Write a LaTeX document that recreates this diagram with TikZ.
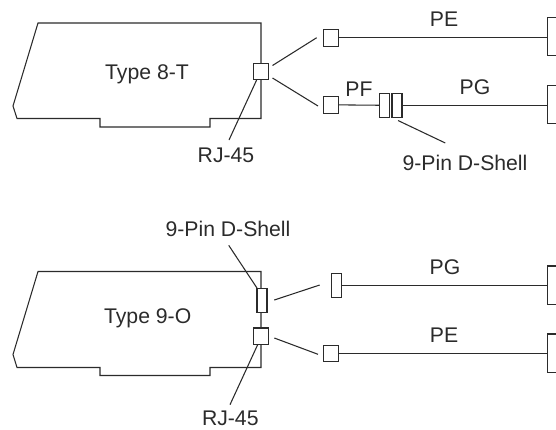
\documentclass[tikz,border=0pt]{standalone}
\usepackage{fontspec}
\setmainfont{Liberation Sans}
\usetikzlibrary{calc}
\definecolor{ink}{HTML}{2B2B2B}
\tikzset{
  lineart/.style={draw=ink,line width=0.8pt},
  part/.style={lineart,rectangle,fill=white,inner sep=0pt,outer sep=0pt},
  sq/.style={part,minimum width=11.25pt,minimum height=12.5pt},
  dsh/.style={part,minimum width=7.5pt,minimum height=18.2pt},
  far/.style={part,minimum width=22pt,minimum height=29pt},
  lab/.style={anchor=base,inner sep=0pt,text=ink,font=\fontsize{15.9pt}{18pt}\selectfont},
}
\begin{document}
\begin{tikzpicture}[x=0.75pt,y=-0.75pt]
\useasboundingbox (0,0) rectangle (556,429);
\clip (0,0) rectangle (556,429);
% cards
\draw[lineart,line join=miter] (38,23) -- (261,23) -- (261,118.5) -- (210,118.5) -- (210,127) -- (100,127) -- (100,118.5) -- (17,118.5) -- (13,106) -- cycle;
\draw[lineart,line join=miter] (38,271.5) -- (261,271.5) -- (261,367.5) -- (210,367.5) -- (210,375.5) -- (100,375.5) -- (100,367.5) -- (17,367.5) -- (13,354.5) -- cycle;
% upper group
\node[sq] (rjA) at (261,71.5) {};
\node[sq] (plugA) at (331,37.8) {};
\node[sq] (plugB) at (331,104.8) {};
\node[dsh] (dA) at (384.7,105.3) {};
\node[dsh] (dB) at (397,105.6) {};
\node[far] (farA) at (562.5,36.6) {};
\node[far] (farB) at (562.5,104.5) {};
\draw[lineart] (plugA) -- (farA.west |- plugA);
\draw[lineart] (plugB) -- (dA);
\draw[lineart] (dB) -- (farB.west |- dB);
\coordinate (gA1) at (272.5,65.5);
\coordinate (gA2) at (316.7,37.7);
\coordinate (gB1) at (272.5,78);
\coordinate (gB2) at (318,106);
\draw[lineart] (gA1) -- (gA2);
\draw[lineart] (gB1) -- (gB2);
% lower group
\node[dsh] (dC) at (262,300.2) {};
\node[sq] (rjB) at (261,336.3) {};
\node[dsh] (dD) at (336.5,285.5) {};
\node[sq] (plugC) at (331,353.5) {};
\node[far] (farC) at (562.5,285.3) {};
\node[far] (farD) at (562.5,353.3) {};
\draw[lineart] (dD) -- (farC.west |- dD);
\draw[lineart] (plugC) -- (farD.west |- plugC);
\coordinate (gC1) at (274.3,300);
\coordinate (gC2) at (319.7,285);
\coordinate (gD1) at (274.3,338);
\coordinate (gD2) at (318,354.3);
\draw[lineart] (gC1) -- (gC2);
\draw[lineart] (gD1) -- (gD2);
% labels
\node[lab] (t8) at (147,79) {Type 8-T};
\node[lab] (t9) at (147.7,323) {Type 9-O};
\node[lab] (rjlA) at (226,162.7) {RJ-45};
\node[lab] (rjlB) at (230.3,425.3) {RJ-45};
\node[lab] (shA) at (465,170) {9-Pin D-Shell};
\node[lab] (shB) at (228,236.7) {9-Pin D-Shell};
\node[lab] (pe1) at (444,26) {PE};
\node[lab] (pf) at (359,96.7) {PF};
\node[lab] (pg1) at (475,94) {PG};
\node[lab] (pg2) at (445,274) {PG};
\node[lab] (pe2) at (444,342) {PE};
% leaders
\coordinate (lA) at (229,140);
\coordinate (lB) at (445.3,143);
\coordinate (lBs) at (398,120.5);
\coordinate (lC) at (228.7,245.3);
\coordinate (lD) at (230,404.7);
\draw[lineart] ($(rjA.south)+(-4.3,0)$) -- (lA);
\draw[lineart] (lBs) -- (lB);
\draw[lineart] ($(dC.north)+(-5,0)$) -- (lC);
\draw[lineart] ($(rjB.south)+(-3.3,0)$) -- (lD);
\end{tikzpicture}
\end{document}
